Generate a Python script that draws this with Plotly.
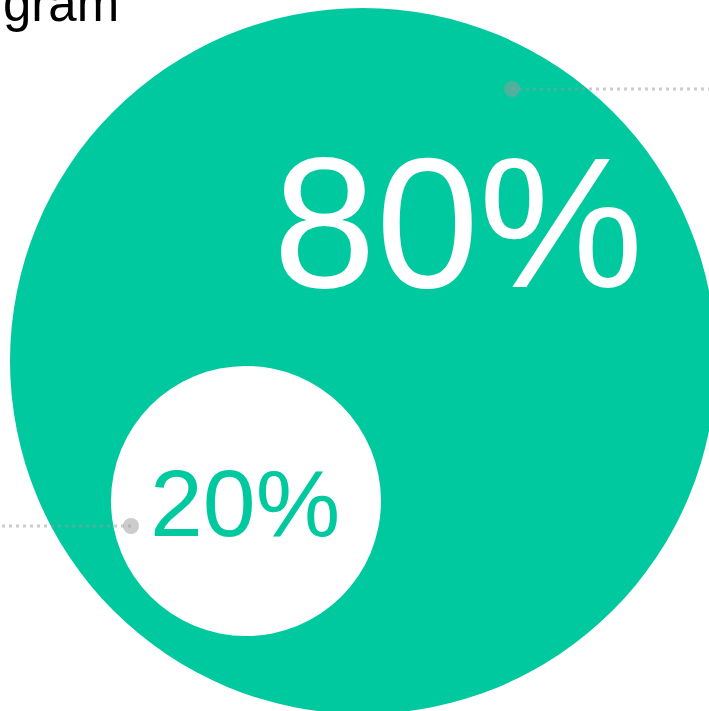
import plotly.graph_objects as go

# Data
labels = ["80%", "20%"]
values = [80, 20]
title_text = "gram"

# Style / geometry (pixel space of the 709x711 page)
W, H = 709, 711
GREEN = "#00c99f"
outer_center = (363, 361)
outer_r = 353
inner_center = (246, 501)
inner_r = 135
label_pos = [(458, 223), (245, 503)]
label_sizes = [185, 95]
label_colors = ["white", GREEN]
lead_dots = [(512, 89), (131, 526)]
lead_ends = [W, 0]

fig = go.Figure()

fig.add_shape(type="circle", xref="x", yref="y",
              x0=outer_center[0] - outer_r, x1=outer_center[0] + outer_r,
              y0=outer_center[1] - outer_r, y1=outer_center[1] + outer_r,
              fillcolor=GREEN, line=dict(width=0), layer="below")
fig.add_shape(type="circle", xref="x", yref="y",
              x0=inner_center[0] - inner_r, x1=inner_center[0] + inner_r,
              y0=inner_center[1] - inner_r, y1=inner_center[1] + inner_r,
              fillcolor="white", line=dict(width=0), layer="below")

for (dx, dy), ex in zip(lead_dots, lead_ends):
    fig.add_trace(go.Scatter(x=[dx, ex], y=[dy, dy], mode="lines",
                             line=dict(color="rgba(153,153,153,0.5)", width=3, dash="3px,4px"),
                             hoverinfo="skip", showlegend=False))
    fig.add_trace(go.Scatter(x=[dx], y=[dy], mode="markers",
                             marker=dict(size=16, color="rgba(153,153,153,0.5)", line=dict(width=0)),
                             hoverinfo="skip", showlegend=False))

for lab, (lx, ly), fs, col in zip(labels, label_pos, label_sizes, label_colors):
    fig.add_annotation(x=lx, y=ly, xref="x", yref="y", text=lab, showarrow=False,
                       xanchor="center", yanchor="middle",
                       font=dict(family="Liberation Sans, Arial", size=fs, color=col))

fig.add_annotation(x=121, y=3, xref="x", yref="y", text=title_text, showarrow=False,
                   xanchor="right", yanchor="middle",
                   font=dict(family="Liberation Sans, Arial", size=51, color="black"))

fig.update_layout(
    width=W, height=H,
    margin=dict(l=0, r=0, t=0, b=0),
    paper_bgcolor="white", plot_bgcolor="white",
    xaxis=dict(range=[0, W], visible=False, fixedrange=True),
    yaxis=dict(range=[H, 0], visible=False, fixedrange=True),
    showlegend=False,
)

fig.write_html("out.html")
